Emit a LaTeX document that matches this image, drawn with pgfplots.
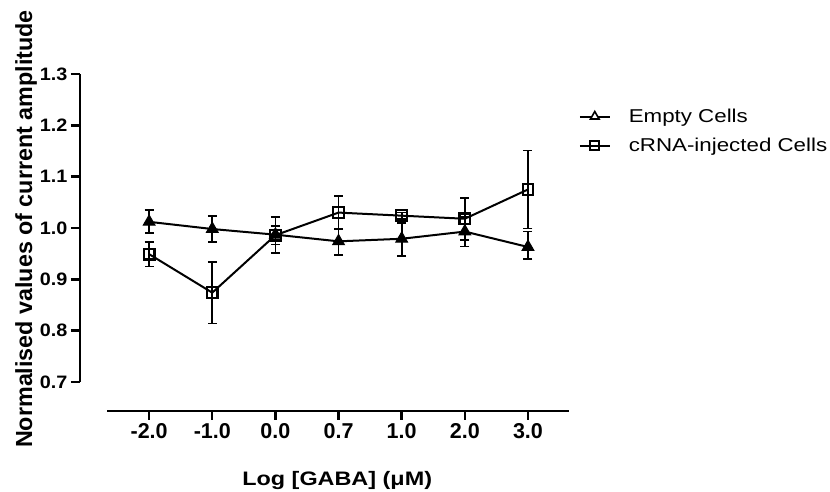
\documentclass[border=0pt]{standalone}
\usepackage{pgfplots}
\pgfplotsset{compat=1.18}
\usepackage{fontspec}
\setmainfont{Liberation Sans}
\newfontfamily\widefont[FakeStretch=1.2]{Liberation Sans}
\newfontfamily\ytfont[FakeStretch=1.1]{Liberation Sans}

\pgfplotstableread{
x y ep em
0 1.012 0.023 0.021
1 0.998 0.026 0.025
2 0.987 0.034 0.035
3 0.974 0.025 0.027
4 0.979 0.031 0.033
5 0.993 0.029 0.029
6 0.963 0.030 0.024
}\empty
\pgfplotstableread{
x y ep em
0 0.949 0.024 0.024
1 0.874 0.060 0.060
2 0.986 0.018 0.018
3 1.030 0.032 0.032
4 1.024 0.006 0.006
5 1.018 0.041 0.041
6 1.075 0.076 0.076
}\crna

\begin{document}
\begin{tikzpicture}[x=1pt,y=1pt]
\useasboundingbox (0,0) rectangle (830,492);
\begin{axis}[
  at={(80pt,81pt)}, anchor=south west,
  scale only axis, width=489pt, height=337pt,
  xmin=-1.095, xmax=6.65, ymin=0.6435, ymax=1.3,
  clip=false,
  axis lines=left,
  axis line style={line width=2.6pt, -},
  x axis line style={shorten <=27pt},
  y axis line style={shorten <=29pt},
  tick style={line width=2.4pt, black},
  major tick length=9pt,
  tick align=outside,
  minor tick num=0,
  xtick={0,1,2,3,4,5,6},
  xticklabels={{-2.0},{-1.0},{0.0},{0.7},{1.0},{2.0},{3.0}},
  ytick={0.7,0.8,0.9,1.0,1.1,1.2,1.3},
  yticklabel={\pgfmathprintnumber[fixed,precision=1,zerofill]{\tick}},
  /pgf/number format/assume math mode=true,
  yticklabel style={font=\ytfont\bfseries\fontsize{18}{20}\selectfont},
  xticklabel style={font=\bfseries\fontsize{21.5}{24}\selectfont},
  xlabel={Log [GABA] (μM)},
  xlabel style={at={(axis description cs:0.526,-0.2196)}, anchor=base, font=\widefont\bfseries\fontsize{19.5}{22}\selectfont},
  ylabel={Normalised values of current amplitude},
  ylabel style={at={(axis description cs:-0.098,0.54)}, anchor=base, inner sep=0pt, font=\bfseries\fontsize{23.3}{26}\selectfont},
  legend style={at={(axis description cs:1.02,0.896)}, anchor=north west, draw=none, fill=none,
    inner sep=0pt, outer sep=0pt, row sep=14pt,
    font=\widefont\fontsize{18.6}{22}\selectfont,
    nodes={inner sep=0pt, anchor=west},
    /tikz/every odd column/.append style={column sep=18pt}},
  legend cell align=left,
  legend image code/.code={\draw[mark repeat=2,mark phase=2,#1] plot coordinates {(0pt,0pt) (15pt,0pt) (30pt,0pt)};},
]
\addplot[black, line width=2pt, mark=triangle*, mark size=6.8pt,
  mark options={solid, fill=black, line width=1pt},
  legend image post style={mark options={fill=white, line width=1.6pt}, mark size=5pt},
  error bars/.cd, y dir=both, y explicit,
  error bar style={line width=1.8pt},
  error mark options={rotate=90, mark size=4.5pt, line width=1.8pt}]
  table[x=x, y=y, y error plus=ep, y error minus=em] {\empty};
\addlegendentry{Empty Cells}
\addplot[black, line width=2pt, mark=square, mark size=5.3pt,
  mark options={solid, fill=white, line width=2.2pt},
  legend image post style={mark size=4.5pt},
  error bars/.cd, y dir=both, y explicit,
  error bar style={line width=1.8pt},
  error mark options={rotate=90, mark size=4.5pt, line width=1.8pt}]
  table[x=x, y=y, y error plus=ep, y error minus=em] {\crna};
\addlegendentry{cRNA-injected Cells}
\end{axis}
\end{tikzpicture}
\end{document}
